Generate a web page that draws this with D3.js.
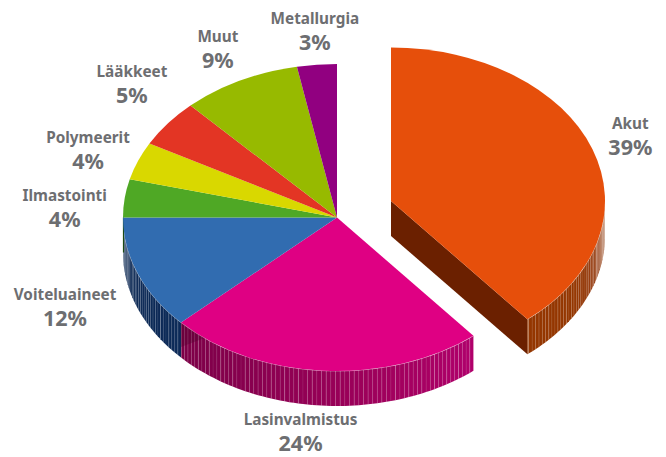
<!DOCTYPE html>
<html>
<head>
<meta charset="utf-8">
<script src="https://cdn.jsdelivr.net/npm/d3@7"></script>
<style>
  html, body { margin: 0; padding: 0; background: #fff; }
  svg { display: block; }
  text { font-family: "Noto Sans", sans-serif; font-weight: 700; fill: #6d6e71; text-anchor: middle; }
</style>
</head>
<body>
<div id="chart"></div>
<script>
// Data
const categories = ['Akut', 'Lasinvalmistus', 'Voiteluaineet', 'Ilmastointi', 'Polymeerit', 'Lääkkeet', 'Muut', 'Metallurgia'];
const shares = [39, 24, 12, 4, 4, 5, 9, 3];

// Colours per slice
const topColors = ['#e64f0b', '#df0083', '#316cb0', '#4fa825', '#d9d800', '#e33524', '#97ba00', '#910080'];
// Wall colours along each visible slice, evenly spaced (only the front three have walls)
const wallShades = [
  ['#a8623e', '#a8623e', '#963c10', '#943600', '#943600', '#943600'],
  ['#b0006b', '#a3005f', '#950056', '#87004e', '#7c0047'],
  ['#0c2a58', '#0a2650']
];

// Label nudges from the rim of each slice
const labelNudge = [[38, -13], [-23, 61], [-73, 33], [-60, 10], [-50, -11], [-36, -39], [-22, -32], [-2, -34]];

const width = 666;
const height = 457;
const cx = 337;
const cy = 217.5;
const rx = 214;
const ry = 153.5;
const depth = 35;
const explode = [54, -16.5];   // only the first slice is pulled out

const svg = d3.select('#chart').append('svg')
  .attr('width', width)
  .attr('height', height);

const pie = d3.pie().sort(null).startAngle(0).endAngle(2 * Math.PI);
const slices = pie(shares);
const arc = d3.arc().innerRadius(0).outerRadius(rx);

const origin = (i) => (i === 0 ? [cx + explode[0], cy + explode[1]] : [cx, cy]);
const rim = (i, a) => {
  const [ox, oy] = origin(i);
  return [ox + rx * Math.sin(a), oy - ry * Math.cos(a)];
};
const quad = (p, q) => `M${p[0]},${p[1]}L${q[0]},${q[1]}L${q[0]},${q[1] + depth}L${p[0]},${p[1] + depth}Z`;

const walls = svg.append('g');
const step = 1.25 * Math.PI / 180;

// Walls on the front half of the ellipse
slices.forEach((s, i) => {
  const from = Math.max(s.startAngle, Math.PI / 2);
  const to = Math.min(s.endAngle, 3 * Math.PI / 2);
  if (to <= from) return;

  const stops = wallShades[i];
  const shade = d3.scaleLinear()
    .domain(stops.map((c, k) => from + (to - from) * k / (stops.length - 1)))
    .range(stops);
  const angles = d3.range(from, to, step).concat([to]);
  const strips = d3.pairs(angles);

  // The cut face of the exploded slice
  if (i === 0) {
    walls.append('path')
      .attr('d', quad(origin(0), rim(0, s.endAngle)))
      .attr('fill', '#6b2000');
  }

  const g = walls.append('g');
  g.selectAll('path')
    .data(strips)
    .enter()
    .append('path')
    .attr('d', ([a, b]) => quad(rim(i, a), rim(i, b)))
    .attr('fill', ([a]) => shade(a));

  // Pale seams between the strips
  g.selectAll('line')
    .data(angles.slice(1, -1))
    .enter()
    .append('line')
    .attr('x1', (a) => rim(i, a)[0])
    .attr('y1', (a) => rim(i, a)[1])
    .attr('x2', (a) => rim(i, a)[0])
    .attr('y2', (a) => rim(i, a)[1] + depth)
    .attr('stroke', '#fff')
    .attr('stroke-width', 0.6)
    .attr('stroke-opacity', (a, k) => (k % 3 === 0 ? 0.3 : 0.12));

  // Pale line where the wall meets the top face
  walls.append('path')
    .attr('d', d3.line()(angles.map((a) => rim(i, a))))
    .attr('fill', 'none')
    .attr('stroke', '#fff')
    .attr('stroke-width', 1)
    .attr('stroke-opacity', 0.4);
});

// Darker wedge where the blue slice's cut shows through the pink wall
const blueStart = slices[2].startAngle;
const wedgeEnd = rim(1, blueStart - 0.15);
const wedgeTop = rim(1, blueStart);
walls.append('path')
  .attr('d', `M${wedgeTop[0]},${wedgeTop[1]}L${wedgeEnd[0]},${wedgeEnd[1]}L${wedgeTop[0]},${wedgeTop[1] + depth * 0.7}Z`)
  .attr('fill', '#4d002c')
  .attr('fill-opacity', 0.35);

// Sliver of the green slice's wall at the far left
const leftEdge = rim(3, 3 * Math.PI / 2);
walls.append('line')
  .attr('x1', leftEdge[0] + 0.5)
  .attr('y1', leftEdge[1])
  .attr('x2', leftEdge[0] + 0.5)
  .attr('y2', leftEdge[1] + depth)
  .attr('stroke', '#1c4a12')
  .attr('stroke-width', 1.2);

// Top faces
svg.append('g')
  .selectAll('path')
  .data(slices)
  .enter()
  .append('path')
  .attr('transform', (d, i) => {
    const [ox, oy] = origin(i);
    return `translate(${ox},${oy}) scale(1,${ry / rx})`;
  })
  .attr('d', arc)
  .attr('fill', (d, i) => topColors[i]);

// Labels
const labels = svg.append('g')
  .selectAll('g')
  .data(slices)
  .enter()
  .append('g')
  .attr('transform', (d, i) => {
    const p = rim(i, (d.startAngle + d.endAngle) / 2);
    return `translate(${p[0] + labelNudge[i][0]},${p[1] + labelNudge[i][1]})`;
  });

labels.append('text')
  .attr('y', -7)
  .style('font-size', '15.3px')
  .text((d, i) => categories[i]);

labels.append('text')
  .attr('y', 19)
  .style('font-size', '21.5px')
  .text((d) => `${d.data}%`);
</script>
</body>
</html>
